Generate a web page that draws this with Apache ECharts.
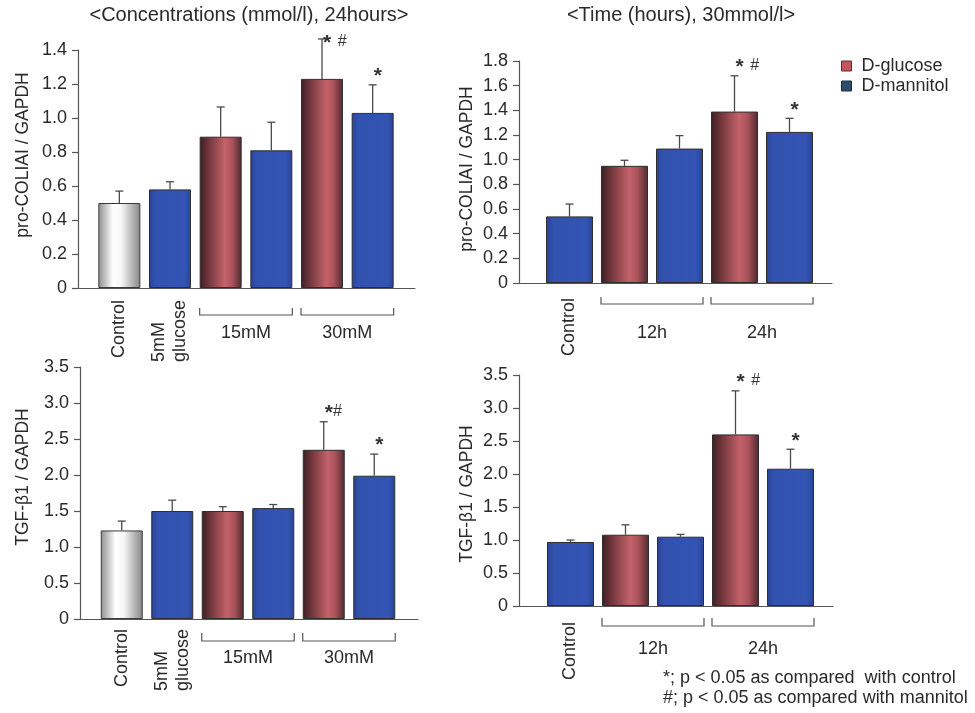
<!DOCTYPE html>
<html><head><meta charset="utf-8">
<script src="https://cdn.jsdelivr.net/npm/echarts@6/dist/echarts.min.js"></script>
<style>html,body{margin:0;padding:0;background:#fff}#c{width:975px;height:713px}</style>
</head><body><div id="c"></div>
<script>
// ---------- DATA ----------
// Panel 1: pro-COLIAI, concentrations, 24 hours
const p1Categories = ['Control', '5mM\nglucose', '', '', '', ''];
const p1Kinds = ['control', 'mannitol', 'glucose', 'mannitol', 'glucose', 'mannitol'];
const p1Values = [0.50, 0.58, 0.89, 0.81, 1.23, 1.03];
const p1Errors = [0.07, 0.045, 0.175, 0.165, 0.235, 0.165];
const p1Marks = ['', '', '', '', '* #', '*'];
const p1GroupLabels = ['15mM', '30mM'];
const p1GroupSpans = [[2, 3], [4, 5]];
const p1YTicks = [0, 0.2, 0.4, 0.6, 0.8, 1.0, 1.2, 1.4];

// Panel 2: pro-COLIAI, time, 30 mmol/l
const p2Categories = ['Control', '', '', '', ''];
const p2Kinds = ['mannitol', 'glucose', 'mannitol', 'glucose', 'mannitol'];
const p2Values = [0.54, 0.95, 1.09, 1.39, 1.225];
const p2Errors = [0.10, 0.045, 0.105, 0.29, 0.11];
const p2Marks = ['', '', '', '* #', '*'];
const p2GroupLabels = ['12h', '24h'];
const p2GroupSpans = [[1, 2], [3, 4]];
const p2YTicks = [0, 0.2, 0.4, 0.6, 0.8, 1.0, 1.2, 1.4, 1.6, 1.8];

// Panel 3: TGF-beta1, concentrations, 24 hours
const p3Categories = ['Control', '5mM\nglucose', '', '', '', ''];
const p3Kinds = ['control', 'mannitol', 'glucose', 'mannitol', 'glucose', 'mannitol'];
const p3Values = [1.23, 1.50, 1.50, 1.54, 2.35, 1.99];
const p3Errors = [0.13, 0.15, 0.06, 0.05, 0.39, 0.30];
const p3Marks = ['', '', '', '', '*#', '*'];
const p3GroupLabels = ['15mM', '30mM'];
const p3GroupSpans = [[2, 3], [4, 5]];
const p3YTicks = [0, 0.5, 1.0, 1.5, 2.0, 2.5, 3.0, 3.5];

// Panel 4: TGF-beta1, time, 30 mmol/l
const p4Categories = ['Control', '', '', '', ''];
const p4Kinds = ['mannitol', 'glucose', 'mannitol', 'glucose', 'mannitol'];
const p4Values = [0.97, 1.08, 1.05, 2.60, 2.08];
const p4Errors = [0.03, 0.15, 0.035, 0.66, 0.295];
const p4Marks = ['', '', '', '* #', '*'];
const p4GroupLabels = ['12h', '24h'];
const p4GroupSpans = [[1, 2], [3, 4]];
const p4YTicks = [0, 0.5, 1.0, 1.5, 2.0, 2.5, 3.0, 3.5];

const titleLeft = '<Concentrations (mmol/l), 24hours>';
const titleRight = '<Time (hours), 30mmol/l>';
const yNameTop = 'pro-COLIAI / GAPDH';
const yNameBottom = 'TGF-\u03b21 / GAPDH';
const legendNames = ['D-glucose', 'D-mannitol'];
const footnoteLines = ['*; p < 0.05 as compared  with control', '#; p < 0.05 as compared with mannitol'];

// ---------- STYLE / LAYOUT ----------
const FONT = '"Liberation Sans", Arial, Helvetica, sans-serif';
const TXT = '#2a2a2a';
const AX = '#555';

const LG = echarts.graphic.LinearGradient;
const styles = {
  control: { color: new LG(0, 0, 1, 0, [
      { offset: 0, color: '#8e8e8e' }, { offset: 0.35, color: '#ffffff' },
      { offset: 0.55, color: '#f6f6f6' }, { offset: 1, color: '#858585' }]),
    borderColor: '#3a3a3a', borderWidth: 1 },
  glucose: { color: new LG(0, 0, 1, 0, [
      { offset: 0, color: '#3c2024' }, { offset: 0.25, color: '#7a3a40' },
      { offset: 0.6, color: '#c4626a' }, { offset: 0.78, color: '#a9525a' },
      { offset: 1, color: '#4e2a2e' }]),
    borderColor: '#2e2e2e', borderWidth: 1 },
  mannitol: { color: new LG(0, 0, 1, 0, [
      { offset: 0, color: '#2a4392' }, { offset: 0.15, color: '#3252b0' },
      { offset: 0.85, color: '#3354b2' }, { offset: 1, color: '#2a4494' }]),
    borderColor: '#2e2e2e', borderWidth: 1 }
};
const seriesNames = { control: 'Control', glucose: legendNames[0], mannitol: legendNames[1] };

const panels = [
  { cats: p1Categories, kinds: p1Kinds, values: p1Values, errors: p1Errors, marks: p1Marks,
    gLabels: p1GroupLabels, gSpans: p1GroupSpans, ticks: p1YTicks,
    axis: { left: 78, right: 415, top: 50, bottom: 288 }, bars: { left: 94, right: 398, width: 42 },
    labelMargin: 12, bracket: [20, 27, 45] },
  { cats: p2Categories, kinds: p2Kinds, values: p2Values, errors: p2Errors, marks: p2Marks,
    gLabels: p2GroupLabels, gSpans: p2GroupSpans, ticks: p2YTicks,
    axis: { left: 519, right: 832, top: 61, bottom: 283 }, bars: { left: 542, right: 817, width: 47 },
    labelMargin: 15, bracket: [14, 21, 50] },
  { cats: p3Categories, kinds: p3Kinds, values: p3Values, errors: p3Errors, marks: p3Marks,
    gLabels: p3GroupLabels, gSpans: p3GroupSpans, ticks: p3YTicks,
    axis: { left: 80, right: 418, top: 367, bottom: 619 }, bars: { left: 96.5, right: 399.5, width: 42 },
    labelMargin: 10, bracket: [14, 22, 39] },
  { cats: p4Categories, kinds: p4Kinds, values: p4Values, errors: p4Errors, marks: p4Marks,
    gLabels: p4GroupLabels, gSpans: p4GroupSpans, ticks: p4YTicks,
    axis: { left: 519, right: 833, top: 375, bottom: 606 }, bars: { left: 543, right: 818, width: 47 },
    labelMargin: 16, bracket: [12, 20, 43] }
];

const markRich = {
  s: { fontSize: 21, fontWeight: 'bold', fontFamily: FONT, color: '#333', verticalAlign: 'top' },
  h: { fontSize: 16, fontFamily: FONT, color: '#333', verticalAlign: 'top', padding: [1, 0, 0, 0] },
  g: { fontSize: 24, fontFamily: FONT, color: '#333', verticalAlign: 'top' }
};
const toRich = s => s.split('').map(c => c === '*' ? '{s|*}' : c === '#' ? '{h|#}' : '{g| }').join('');

const grid = [], xAxis = [], yAxis = [], series = [];
panels.forEach(p => {
  const ga = grid.length, gb = ga + 1;
  const h = p.axis.bottom - p.axis.top;
  grid.push({ left: p.axis.left, top: p.axis.top, width: p.axis.right - p.axis.left, height: h });
  grid.push({ left: p.bars.left, top: p.axis.top, width: p.bars.right - p.bars.left, height: h });
  const yMin = p.ticks[0], yMax = p.ticks[p.ticks.length - 1];
  const yInt = +(p.ticks[1] - p.ticks[0]).toFixed(4);
  xAxis.push({ type: 'value', gridIndex: ga, min: 0, max: 1,
    axisLine: { show: true, onZero: false, lineStyle: { color: AX, width: 1.2 } },
    axisTick: { show: false }, axisLabel: { show: false }, splitLine: { show: false } });
  yAxis.push({ type: 'value', gridIndex: ga, min: yMin, max: yMax, interval: yInt,
    axisLine: { show: true, lineStyle: { color: AX, width: 1.2 } },
    axisTick: { show: true, length: 6, lineStyle: { color: AX, width: 1.2 } },
    axisLabel: { margin: 11, fontSize: 18, color: TXT, fontFamily: FONT,
      formatter: v => v === 0 ? '0' : v.toFixed(1) },
    splitLine: { show: false } });
  xAxis.push({ type: 'category', gridIndex: gb, data: p.cats,
    axisLine: { show: false }, axisTick: { show: false }, splitLine: { show: false },
    axisLabel: { interval: 0, rotate: 90, margin: p.labelMargin, color: TXT,
      formatter: v => v ? v.split('\n').map(s => '{a|' + s + '}').join('\n') : '',
      rich: { a: { align: 'left', fontSize: 18, lineHeight: 21, fontFamily: FONT, color: TXT } } } });
  yAxis.push({ type: 'value', gridIndex: gb, min: yMin, max: yMax, show: false });

  ['control', 'glucose', 'mannitol'].forEach(kind => {
    if (!p.kinds.includes(kind)) return;
    series.push({ type: 'bar', name: seriesNames[kind], xAxisIndex: gb, yAxisIndex: gb,
      barWidth: p.bars.width, barGap: '-100%', silent: true,
      data: p.values.map((v, i) => p.kinds[i] === kind ? v : '-'),
      itemStyle: styles[kind] });
  });

  // error bars (upper whisker only)
  series.push({ type: 'custom', xAxisIndex: gb, yAxisIndex: gb, clip: false, silent: true, z: 5,
    data: p.values.map((v, i) => [i, v, v + p.errors[i]]),
    renderItem: (params, api) => {
      const b = api.coord([api.value(0), api.value(1)]);
      const t = api.coord([api.value(0), api.value(2)]);
      const st = { stroke: '#4a4a4a', lineWidth: 1.3 };
      return { type: 'group', children: [
        { type: 'line', shape: { x1: b[0], y1: b[1], x2: t[0], y2: t[1] }, style: st },
        { type: 'line', shape: { x1: t[0] - 4, y1: t[1], x2: t[0] + 4, y2: t[1] }, style: st }
      ] };
    } });

  // significance marks
  series.push({ type: 'custom', xAxisIndex: gb, yAxisIndex: gb, clip: false, silent: true, z: 6,
    data: p.values.map((v, i) => [i, v + p.errors[i]]),
    renderItem: (params, api) => {
      const s = p.marks[params.dataIndex];
      if (!s) return null;
      const t = api.coord([api.value(0), api.value(1)]);
      const y = Math.max(t[1] - 19, p.axis.top - 17);
      return { type: 'text', style: { x: t[0] + 1, y: y, text: toRich(s), rich: markRich, fill: '#333',
        font: '16px ' + FONT, textAlign: 'left', textVerticalAlign: 'top' } };
    } });

  // group brackets
  series.push({ type: 'custom', xAxisIndex: gb, yAxisIndex: gb, clip: false, silent: true, z: 6,
    data: p.gSpans.map(s => [s[0], 0]),
    renderItem: (params, api) => {
      const span = p.gSpans[params.dataIndex];
      const a = api.coord([span[0], 0]), b = api.coord([span[1], 0]);
      const hw = p.bars.width / 2;
      const x1 = a[0] - hw, x2 = b[0] + hw, y0 = a[1];
      const [t1, t2, tl] = p.bracket;
      return { type: 'group', children: [
        { type: 'polyline', shape: { points: [[x1, y0 + t1], [x1, y0 + t2], [x2, y0 + t2], [x2, y0 + t1]] },
          style: { stroke: AX, lineWidth: 1.2, fill: null } },
        { type: 'text', style: { x: (x1 + x2) / 2, y: y0 + tl, text: p.gLabels[params.dataIndex],
          fill: TXT, font: '18px ' + FONT, textAlign: 'center', textVerticalAlign: 'middle' } }
      ] };
    } });
});

const rotText = (text, x, y, size) => ({ type: 'text', x: x, y: y, rotation: Math.PI / 2,
  style: { text: text, fill: TXT, font: size + 'px ' + FONT, textAlign: 'center', textVerticalAlign: 'middle' } });

const option = {
  animation: false,
  backgroundColor: '#ffffff',
  grid, xAxis, yAxis, series,
  legend: {
    data: [
      { name: legendNames[0], itemStyle: { color: '#c4545e', borderColor: '#5a3035', borderWidth: 1 } },
      { name: legendNames[1], itemStyle: { color: '#2e4a6c', borderColor: '#1e2e40', borderWidth: 1 } }
    ],
    orient: 'vertical', left: 836, top: 51, icon: 'rect', itemWidth: 10, itemHeight: 10, itemGap: 0,
    selectedMode: false,
    textStyle: { fontSize: 18, color: TXT, fontFamily: FONT, lineHeight: 20, padding: [0, 0, 0, 5] }
  },
  graphic: [
    { type: 'text', x: 249, y: 15, style: { text: titleLeft, fill: TXT, font: '20px ' + FONT, textAlign: 'center', textVerticalAlign: 'middle' } },
    { type: 'text', x: 681, y: 15, style: { text: titleRight, fill: TXT, font: '20px ' + FONT, textAlign: 'center', textVerticalAlign: 'middle' } },
    rotText(yNameTop, 23, 155, 17.5),
    rotText(yNameTop, 467, 169, 17.5),
    rotText(yNameBottom, 23, 477, 17.5),
    rotText(yNameBottom, 467, 494, 17.5),
    { type: 'text', x: 663, y: 668, style: { text: footnoteLines.join('\n'), fill: TXT, font: '18px ' + FONT,
      lineHeight: 20, textAlign: 'left', textVerticalAlign: 'top' } }
  ]
};

const chart = echarts.init(document.getElementById('c'), null, { renderer: 'canvas' });
chart.setOption(option);
</script>
</body></html>
